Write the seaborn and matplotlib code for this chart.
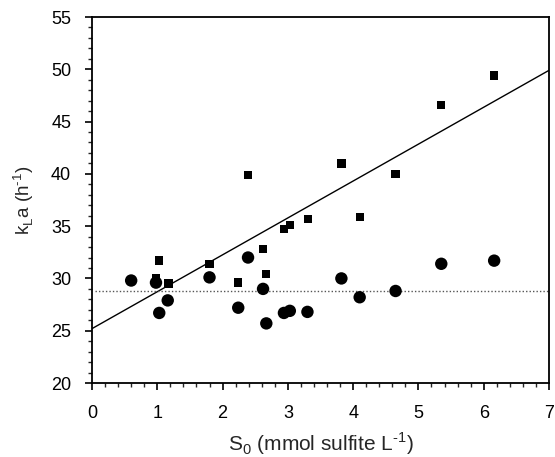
import numpy as np
import pandas as pd
import seaborn as sns
import matplotlib.pyplot as plt
from matplotlib.ticker import MultipleLocator

# squares
sq_x = [0.98, 1.03, 1.17, 1.80, 2.24, 2.39, 2.62, 2.67, 2.94, 3.03, 3.31, 3.82, 4.10, 4.65, 5.35, 6.16]
sq_y = [30.0, 31.7, 29.5, 31.4, 29.6, 39.9, 32.8, 30.4, 34.7, 35.1, 35.7, 41.0, 35.9, 40.0, 46.6, 49.4]
# circles
ci_x = [0.60, 0.98, 1.03, 1.16, 1.80, 2.24, 2.39, 2.62, 2.67, 2.94, 3.03, 3.30, 3.82, 4.10, 4.65, 5.35, 6.16]
ci_y = [29.8, 29.6, 26.7, 27.9, 30.1, 27.2, 32.0, 29.0, 25.7, 26.7, 26.9, 26.8, 30.0, 28.2, 28.8, 31.4, 31.7]
# regression line and mean line
fit_x = [0, 7]
fit_y = [25.2, 49.9]
mean_x = [0.05, 7]
mean_y = [28.75, 28.75]

sns.set_theme(style='ticks')
plt.rcParams['font.family'] = ['Liberation Sans', 'DejaVu Sans']
plt.rcParams['mathtext.fontset'] = 'custom'
plt.rcParams['mathtext.rm'] = 'Liberation Sans'

fig = plt.figure(figsize=(5.55, 4.57), dpi=100)
ax = fig.add_axes([92/555, 1-383/457, 457/555, 366/457])

sns.lineplot(x=fit_x, y=fit_y, color='black', linewidth=1.0, ax=ax)
sns.lineplot(x=mean_x, y=mean_y, color='#555555', linewidth=1.0, linestyle=(0, (1, 1.5)), ax=ax)
sns.scatterplot(x=sq_x, y=sq_y, marker='s', s=36, color='black', edgecolor='none', ax=ax, zorder=3)
sns.scatterplot(x=ci_x, y=ci_y, marker='o', s=80, color='black', edgecolor='none', ax=ax, zorder=3)

ax.set_xlim(0, 7)
ax.set_ylim(20, 55)
ax.xaxis.set_major_locator(MultipleLocator(1))
ax.xaxis.set_minor_locator(MultipleLocator(0.2))
ax.yaxis.set_major_locator(MultipleLocator(5))
ax.yaxis.set_minor_locator(MultipleLocator(1))
ax.tick_params(which='major', direction='out', length=5, width=1.2, labelsize=13, colors='black')
ax.tick_params(axis='x', which='major', pad=11)
ax.tick_params(axis='y', which='major', pad=10)
ax.tick_params(which='minor', direction='out', length=3, width=1.0)
for s in ax.spines.values():
    s.set_linewidth(1.3)
    s.set_color('black')

ax.set_xlabel(r'S$_\mathregular{0}$ (mmol sulfite L$^\text{-1}$)', fontsize=15, labelpad=6)
ax.set_ylabel(r'k$_\mathregular{L}$a (h$^\text{-1}$)', fontsize=13.5, labelpad=11)

plt.savefig('out.png', dpi=100)
